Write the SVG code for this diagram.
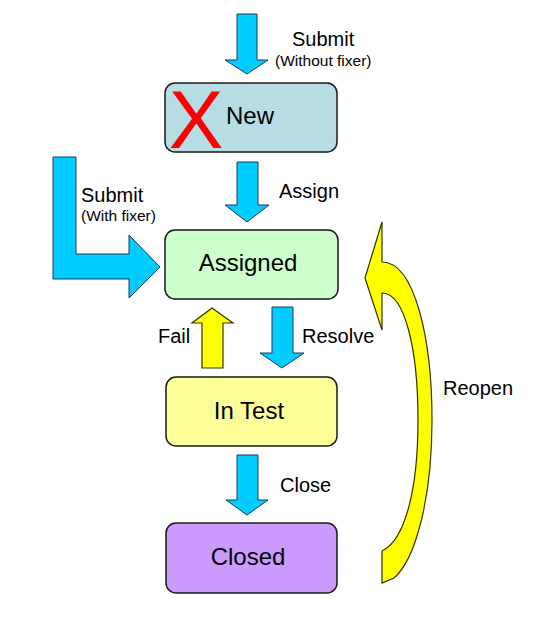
<svg xmlns="http://www.w3.org/2000/svg" width="547" height="636" viewBox="0 0 547 636">
<style>
.box{stroke:#1a1a1a;stroke-width:1.5}
.blue{fill:#00ccff;stroke:#1a3a5a;stroke-width:1}
.yel{fill:#ffff00;stroke:#333300;stroke-width:1.2}
.lbl{font-family:"Liberation Sans",Arial,sans-serif;font-size:20px;fill:#000}
.sm{font-family:"Liberation Sans",Arial,sans-serif;font-size:15.5px;fill:#000}
.bt{font-family:"Liberation Sans",Arial,sans-serif;font-size:24px;fill:#000;text-anchor:middle}
</style>
<rect width="547" height="636" fill="#ffffff"/>
<g id="connectors">
<path class="blue" d="M237,14 L257,14 L257,60 L268,60 L247,74 L225,60 L237,60 Z"/>
<path class="blue" d="M237,162 L258,162 L258,205 L269,205 L247,222 L225,205 L237,205 Z"/>
<path class="blue" d="M53,157 L76,157 L76,254 L129,254 L129,235 L160,267 L129,298 L129,279 L53,279 Z"/>
<path class="yel" d="M202,368 L223,368 L223,323 L233,323 L212,308 L192,323 L202,323 Z"/>
<path class="blue" d="M272,307 L293,307 L293,353 L304,353 L282,368 L260,353 L272,353 Z"/>
<path class="blue" d="M237,455 L258,455 L258,500 L268,500 L247,515 L226,500 L237,500 Z"/>
<path class="yel" d="M382,222 L365,278 L382,330 L382,293 C405,293 418,350 418,420 C418,490 405,540 382,551 L382,583 L394,578 C415,560 432,500 432,420 C432,340 415,262 382,262 Z"/>
<text class="lbl" x="292" y="46">Submit</text>
<text class="sm" x="275" y="66">(Without fixer)</text>
<text class="lbl" x="81" y="202">Submit</text>
<text class="sm" x="81" y="221">(With fixer)</text>
<text class="lbl" x="279" y="198">Assign</text>
<text class="lbl" x="158" y="343">Fail</text>
<text class="lbl" x="302" y="343">Resolve</text>
<text class="lbl" x="280" y="492">Close</text>
<text class="lbl" x="443" y="395">Reopen</text>
</g>
<g id="node-new">
<rect class="box" x="165" y="83" width="172" height="69" rx="10" fill="#b6dde3"/>
<text x="196" y="148" font-family="'Liberation Sans',Arial,sans-serif" font-size="82" fill="#ff0000" text-anchor="middle">X</text>
<text class="bt" x="250" y="124">New</text>
</g>
<g id="node-assigned">
<rect class="box" x="165" y="230" width="173" height="69" rx="10" fill="#ccffcc"/>
<text class="bt" x="248" y="271">Assigned</text>
</g>
<g id="node-intest">
<rect class="box" x="166" y="377" width="171" height="69" rx="10" fill="#ffff99"/>
<text class="bt" x="249" y="419">In Test</text>
</g>
<g id="node-closed">
<rect class="box" x="166" y="523" width="171" height="70" rx="10" fill="#cc99ff"/>
<text class="bt" x="248" y="565">Closed</text>
</g>
</svg>
